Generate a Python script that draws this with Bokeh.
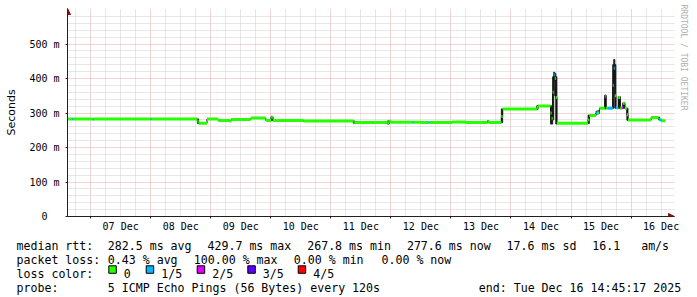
import pandas as pd
from bokeh.plotting import figure
from bokeh.models import (Range1d, FixedTicker, DatetimeTickFormatter, Title,
                          Arrow, NormalHead, ColumnDataSource)
from bokeh.layouts import column
from bokeh.embed import file_html
from bokeh.resources import INLINE
from bokeh.core.properties import value

# ---------------- data ----------------
graph_start = "2025-12-06 14:45:17"
graph_end = "2025-12-16 14:45:17"
data_end = "2025-12-16 13:40"

times = [
    "2025-12-06 14:45", "2025-12-06 16:40", "2025-12-06 17:05", "2025-12-07 00:50",
    "2025-12-07 01:15", "2025-12-08 00:00", "2025-12-08 00:25", "2025-12-08 18:40",
    "2025-12-08 19:10", "2025-12-08 22:30", "2025-12-09 03:00", "2025-12-09 07:30",
    "2025-12-09 08:10", "2025-12-09 16:00", "2025-12-09 22:00", "2025-12-10 00:10",
    "2025-12-10 00:50", "2025-12-10 13:00", "2025-12-11 09:00", "2025-12-11 09:30",
    "2025-12-11 22:40", "2025-12-11 23:20", "2025-12-12 00:00", "2025-12-12 08:40",
    "2025-12-12 09:05", "2025-12-12 12:00", "2025-12-12 15:00", "2025-12-12 15:25",
    "2025-12-13 00:30", "2025-12-13 06:00", "2025-12-13 14:40", "2025-12-13 15:10",
    "2025-12-13 20:10", "2025-12-13 20:40", "2025-12-14 10:20", "2025-12-14 10:50",
    "2025-12-14 15:50", "2025-12-14 16:15", "2025-12-14 16:40", "2025-12-14 17:05",
    "2025-12-14 17:30", "2025-12-14 17:55", "2025-12-14 18:20", "2025-12-15 06:50",
    "2025-12-15 07:20", "2025-12-15 10:00", "2025-12-15 10:25", "2025-12-15 11:20",
    "2025-12-15 13:30", "2025-12-15 14:00", "2025-12-15 14:40", "2025-12-15 16:40",
    "2025-12-15 17:05", "2025-12-15 17:30", "2025-12-15 17:55", "2025-12-15 18:30",
    "2025-12-15 18:55", "2025-12-15 19:40", "2025-12-15 20:20", "2025-12-15 20:45",
    "2025-12-15 21:30", "2025-12-15 22:20", "2025-12-15 22:45", "2025-12-16 08:00",
    "2025-12-16 11:00", "2025-12-16 11:25", "2025-12-16 12:10",
]
median_ms = [
    282.5, 282.5, 282.5, 282.0,
    282.5, 282.5, 282.5, 276.0,
    270.0, 282.5, 278.6, 277.0,
    281.0, 285.3, 278.6, 288.0,
    278.6, 276.6, 271.5, 272.7,
    272.0, 276.0, 273.5, 273.5,
    273.5, 272.7, 272.7, 272.7,
    274.0, 272.7, 275.5, 272.7,
    290.0, 311.5, 316.0, 320.5,
    300.0, 285.0, 360.0, 410.0,
    400.0, 345.0, 270.0, 280.0,
    293.0, 300.0, 301.0, 314.0,
    348.0, 314.0, 314.0, 380.0,
    429.7, 350.0, 316.0, 314.0,
    345.0, 314.0, 315.0, 328.0,
    314.0, 295.0, 279.6, 287.0,
    283.0, 280.0, 277.6,
]
smoke_lo = [
    None, None, None, None,
    None, None, None, 270,
    None, None, None, None,
    None, None, None, 279,
    None, None, 270, None,
    268, None, None, None,
    None, None, None, None,
    None, None, 272, None,
    272, None, 311, None,
    268, 268, 280, 395,
    350, 268, None, 270,
    None, 296, 298, None,
    312, None, None, 314,
    400, 314, None, None,
    314, None, None, 314,
    None, 279, None, None,
    280, None, None,
]
smoke_hi = [
    None, None, None, None,
    None, None, None, 283,
    None, None, None, None,
    None, None, None, 290,
    None, None, 277, None,
    277, None, None, None,
    None, None, None, None,
    None, None, 278, None,
    312, None, 321, None,
    321, 300, 405, 418,
    414, 405, None, 294,
    None, 305, 306, None,
    352, None, None, 440,
    455, 440, None, None,
    348, None, None, 330,
    None, 314, None, None,
    288, None, None,
]
loss_idx = [
    0, 1, 0, 1,
    0, 1, 0, 0,
    0, 0, 0, 0,
    0, 0, 0, 0,
    0, 0, 0, 0,
    0, 0, 0, 1,
    0, 0, 1, 0,
    0, 0, 0, 0,
    0, 0, 0, 0,
    0, 0, 0, 1,
    0, 0, 0, 0,
    0, 1, 0, 0,
    2, 0, 1, 1,
    1, 0, 1, 0,
    0, 0, 2, 0,
    0, 0, 0, 0,
    0, 1, 0,
]

loss_labels = ["0", "1/5", "2/5", "3/5", "4/5"]
loss_colors = ["#26ff00", "#00b8ff", "#dd00ff", "#5e00ff", "#ff0000"]

NB = "\u00a0"
y_ticks = [0, 100, 200, 300, 400, 500]
y_tick_labels = ["0" + NB * 2, "100 m", "200 m", "300 m", "400 m", "500 m"]
y_label = "Seconds"
day_dates = ["2025-12-07", "2025-12-08", "2025-12-09", "2025-12-10", "2025-12-11",
             "2025-12-12", "2025-12-13", "2025-12-14", "2025-12-15", "2025-12-16"]

legend_rows = [
    [("median rtt:", 16), ("282.5 ms avg", 107.3), ("429.7 ms max", 207), ("267.8 ms min", 306.7),
     ("277.6 ms now", 406.4), ("17.6 ms sd", 506.1), ("16.1" + NB * 3 + "am/s", 591.8)],
    [("packet loss:", 16), ("0.43 % avg", 107.3), ("100.00 % max", 193.3), ("0.00 % min", 293.3),
     ("0.00 % now", 381)],
    [("loss color:", 16)],
    [("probe:", 16), ("5 ICMP Echo Pings (56 Bytes) every 120s", 107.3),
     ("end: Tue Dec 16 14:45:17 2025", 478.3)],
]
watermark = "RRDTOOL / TOBI OETIKER"

# ---------------- helpers ----------------
def ms(ts):
    return pd.Timestamp(ts).value / 1e6

t_start = pd.Timestamp(graph_start)
t_end = pd.Timestamp(graph_end)
x_arrow_end = t_end + pd.Timedelta(hours=2.6)   # room for the axis arrow head
y_top = 603                                      # room for the axis arrow head

t0 = pd.to_datetime(times)
t1 = pd.to_datetime(times[1:] + [data_end])
lo = [m if l is None else l for m, l in zip(median_ms, smoke_lo)]
hi = [m if h is None else h for m, h in zip(median_ms, smoke_hi)]
colors = [loss_colors[i] for i in loss_idx]

src = ColumnDataSource(dict(t0=t0, t1=t1, med=median_ms, lo=lo, hi=hi, color=colors))
has_smoke = [i for i, l in enumerate(smoke_lo) if l is not None]
smoke_src = ColumnDataSource(dict(t0=t0[has_smoke], t1=t1[has_smoke],
                                  lo=[lo[i] for i in has_smoke], hi=[hi[i] for i in has_smoke]))

MONO = "DejaVu Sans Mono"
MGRID = "#e6a8a8"
GRID = "#cfcfcf"
AXIS = "#202020"
ARROW = "#8b1010"

p = figure(width=697, height=236, x_axis_type="datetime",
           x_range=Range1d(t_start, x_arrow_end), y_range=Range1d(0, y_top),
           output_backend="svg", toolbar_location=None,
           min_border_left=67, min_border_right=23, min_border_top=8, min_border_bottom=20)
p.frame_align = False
p.outline_line_color = None
p.background_fill_color = "white"
p.border_fill_color = "white"

# x axis: labels at noon, tick marks at midnight
midnights = [ms(d) for d in day_dates]
noons = [ms(pd.Timestamp(d) + pd.Timedelta(hours=12)) for d in day_dates]
six_hours = [ms(t) for t in pd.date_range("2025-12-06 18:00", "2025-12-16 12:00", freq="6h")
             if t.hour != 0]
p.xaxis.ticker = FixedTicker(ticks=noons, minor_ticks=midnights)
fmt = "%d %b"
p.xaxis.formatter = DatetimeTickFormatter(microseconds=fmt, milliseconds=fmt, seconds=fmt,
                                          minsec=fmt, minutes=fmt, hourmin=fmt, hours=fmt,
                                          days=fmt, months=fmt, years=fmt)
p.xaxis.axis_label = None
p.xaxis.major_tick_line_color = None
p.xaxis.major_tick_out = 0
p.xaxis.major_tick_in = 0
p.xaxis.minor_tick_line_color = AXIS
p.xaxis.minor_tick_in = 0
p.xaxis.minor_tick_out = 2
p.xaxis.major_label_standoff = 2
p.xaxis.axis_line_color = AXIS
p.xaxis.major_label_text_font = MONO
p.xaxis.major_label_text_font_size = "10px"
p.xaxis.major_label_text_line_height = 1.0
p.xaxis.major_label_text_color = "black"

p.xgrid.ticker = FixedTicker(ticks=midnights, minor_ticks=six_hours)
p.xgrid.grid_line_color = MGRID
p.xgrid.grid_line_dash = "1 1"
p.xgrid.minor_grid_line_color = GRID
p.xgrid.minor_grid_line_dash = "1 1"

y_minor = [v for v in range(20, 581, 20) if v % 100]
p.yaxis.ticker = FixedTicker(ticks=y_ticks, minor_ticks=y_minor)
p.yaxis.major_label_overrides = {v: s for v, s in zip(y_ticks, y_tick_labels)}
p.yaxis.major_tick_line_color = AXIS
p.yaxis.major_tick_in = 0
p.yaxis.major_tick_out = 2
p.yaxis.minor_tick_line_color = None
p.yaxis.major_label_standoff = 4
p.yaxis.axis_line_color = AXIS
p.yaxis.major_label_text_font = MONO
p.yaxis.major_label_text_font_size = "10px"
p.yaxis.major_label_text_color = "black"
p.yaxis.axis_label = y_label
p.yaxis.axis_label_text_font = "DejaVu Sans"
p.yaxis.axis_label_text_font_size = "11px"
p.yaxis.axis_label_text_font_style = "normal"
p.yaxis.axis_label_text_color = "black"
p.yaxis.axis_label_standoff = 8

p.ygrid.grid_line_color = MGRID
p.ygrid.grid_line_dash = "1 1"
p.ygrid.minor_grid_line_color = GRID
p.ygrid.minor_grid_line_dash = "1 1"

# smoke, connecting line, median coloured by loss
p.quad(left="t0", right="t1", bottom="lo", top="hi", source=smoke_src,
       fill_color="#1c1c1c", line_color="#1c1c1c", line_width=1)
p.step(x=list(t0) + [pd.Timestamp(data_end)], y=median_ms + [median_ms[-1]], mode="after",
       line_color="#111111", line_width=1)
p.segment(x0="t0", y0="med", x1="t1", y1="med", line_color="color", line_width=3,
          line_cap="butt", source=src)

# axis arrows
p.add_layout(Arrow(x_start=ms(t_start), y_start=0, x_end=ms(t_start), y_end=y_top,
                   line_color=AXIS, line_width=1,
                   end=NormalHead(size=6, fill_color=ARROW, line_color=ARROW)))
p.add_layout(Arrow(x_start=ms(t_start), y_start=0, x_end=ms(x_arrow_end), y_end=0,
                   line_color=AXIS, line_width=1,
                   end=NormalHead(size=6, fill_color=ARROW, line_color=ARROW)))

p.add_layout(Title(text=watermark, align="left", text_font=MONO, text_font_size="8px",
                   text_font_style="normal", text_color="#b0b0b0", standoff=8, offset=-4),
             "right")

# ---------------- legend panel ----------------
q = figure(width=697, height=61, x_range=Range1d(0, 697), y_range=Range1d(61, 0),
           output_backend="svg", toolbar_location=None, min_border=0,
           x_axis_location=None, y_axis_location=None)
q.frame_align = False
q.grid.visible = False
q.outline_line_color = None
q.background_fill_color = "white"
q.border_fill_color = "white"

row_base = [9, 23.3, 37.3, 51.7]
tx, ty, tt = [], [], []
for base, row in zip(row_base, legend_rows):
    for s, x in row:
        tx.append(x); ty.append(base); tt.append(s)

box_x = [108.3, 145.7, 196.7, 247.3, 297.7]
for lbl, bx in zip(loss_labels, box_x):
    tx.append(bx + 15); ty.append(row_base[2]); tt.append(lbl)
q.text(x=tx, y=ty, text=tt, text_font=value(MONO), text_font_size="11.6px",
       text_baseline="alphabetic", text_align="left", text_color="black")
q.quad(left=box_x, right=[b + 7.5 for b in box_x], top=[row_base[2] - 8] * 5,
       bottom=[row_base[2] - 0.5] * 5, fill_color=loss_colors, line_color="black", line_width=1)

layout = column(p, q, spacing=0)
open("out.html", "w").write(file_html(layout, INLINE))
